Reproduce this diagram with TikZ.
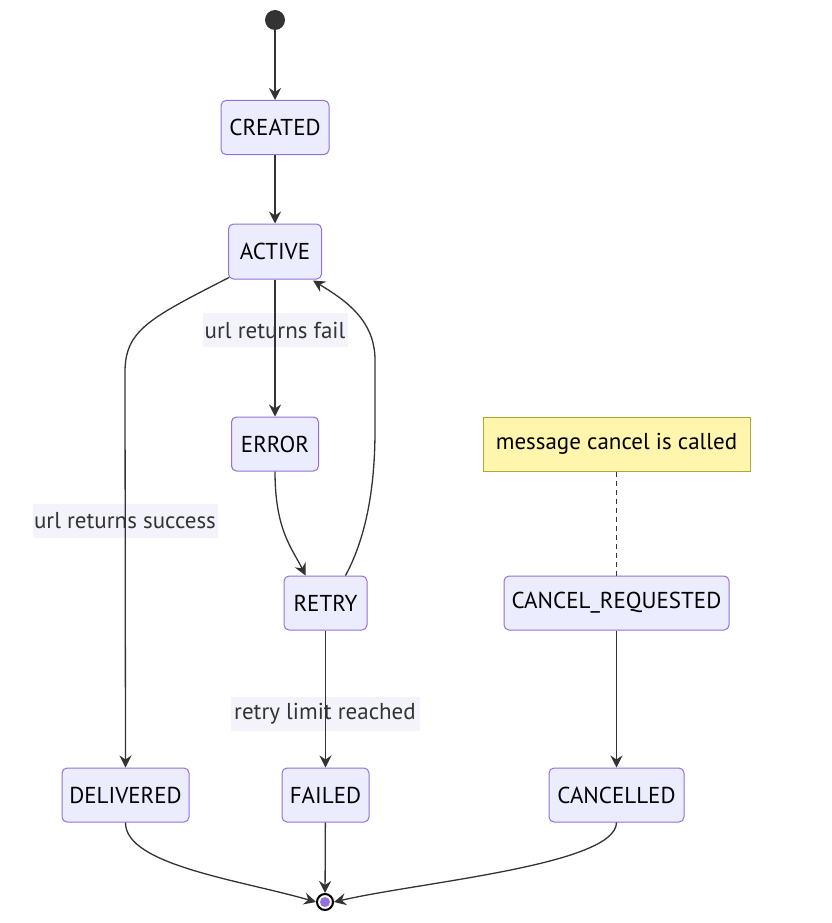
\documentclass[tikz,border=0pt]{standalone}
\usepackage{fontspec}
\setmainfont{PT Sans}
\usetikzlibrary{arrows.meta}
\definecolor{stfill}{HTML}{ECECFF}
\definecolor{stline}{HTML}{9370DB}
\definecolor{notefill}{HTML}{FFF5AD}
\definecolor{noteline}{HTML}{AAAA33}
\definecolor{edgec}{HTML}{333333}
\definecolor{lblfill}{HTML}{F3F3FC}
\tikzset{
  st/.style={draw=stline, fill=stfill, line width=1pt, rounded corners=5pt, inner sep=0pt, minimum height=54pt, font=\fontsize{23}{26}\selectfont, text=black},
  notebox/.style={draw=noteline, fill=notefill, line width=1pt, inner sep=0pt, minimum height=54pt, minimum width=267pt, font=\fontsize{23}{26}\selectfont, text=black},
  lbl/.style={fill=lblfill, inner sep=0pt, minimum height=34pt, font=\fontsize{23}{26}\selectfont, text=edgec},
  tr/.style={draw=edgec, line width=1.3pt, -{Stealth[length=12pt,width=12pt,inset=4pt]}},
}
\begin{document}
\begin{tikzpicture}[x=1pt,y=-1pt]
\useasboundingbox (0,0) rectangle (831,923);
% labels first (edges drawn over their background)
\node[lbl, minimum width=145pt] (lfail) at (275,330) {url returns fail};
\node[lbl, minimum width=185pt] (lsucc) at (125,521) {url returns success};
\node[lbl, minimum width=189pt] (lretry) at (325,714) {retry limit reached};
% states
\node[circle, fill=edgec, inner sep=0pt, minimum size=20pt] (start) at (275,20) {};
\node[st, minimum width=108pt] (created) at (275,127.5) {CREATED};
\node[st, minimum width=93pt, minimum height=55pt] (active) at (275,251.5) {ACTIVE};
\node[st, minimum width=87pt] (error) at (275,444) {ERROR};
\node[st, minimum width=83pt] (retry) at (325.5,603) {RETRY};
\node[st, minimum width=127pt] (delivered) at (125.5,795) {DELIVERED};
\node[st, minimum width=87pt] (failed) at (325.5,795) {FAILED};
\node[st, minimum width=225pt] (cancelreq) at (616.5,603) {CANCEL\_REQUESTED};
\node[st, minimum width=135pt] (cancelled) at (616.5,795) {CANCELLED};
\node[notebox] (note) at (616.5,444) {message cancel is called};
\node[circle, draw=black, line width=2pt, fill=white, inner sep=0pt, minimum size=16pt] (end) at (325,902) {};
\fill[stline] (end.center) circle (5pt);
% anchor points on the boxes
\coordinate (actsw) at ([xshift=1pt,yshift=2pt]active.south west);
\coordinate (actse) at ([xshift=-9pt,yshift=-1pt]active.south east);
\coordinate (retin) at ([xshift=-20pt]retry.north);
\coordinate (retout) at ([xshift=20pt]retry.north);
% transitions
\draw[tr] (start) -- (created);
\draw[tr] (created) -- (active);
\draw[tr] (active) -- (error);
\draw[tr] (actsw) .. controls (150,318) and (125,330) .. (125,372) -- (delivered.north);
\draw[tr] (error.south) .. controls (275,530) and (292,548) .. (retin);
\draw[tr] (retout) .. controls (362,545) and (375,500) .. (375,430) -- (375,360) .. controls (375,320) and (345,300) .. (actse);
\draw[tr] (retry) -- (failed);
\draw[tr] (cancelreq) -- (cancelled);
\draw[draw=edgec, line width=1pt, dash pattern=on 5pt off 4pt] (note) -- (cancelreq);
\draw[tr] (delivered.south) .. controls (125,865) and (240,880) .. (end.west);
\draw[tr] (failed) -- (end);
\draw[tr] (cancelled.south) .. controls (616,865) and (420,882) .. (end.east);
\end{tikzpicture}
\end{document}
